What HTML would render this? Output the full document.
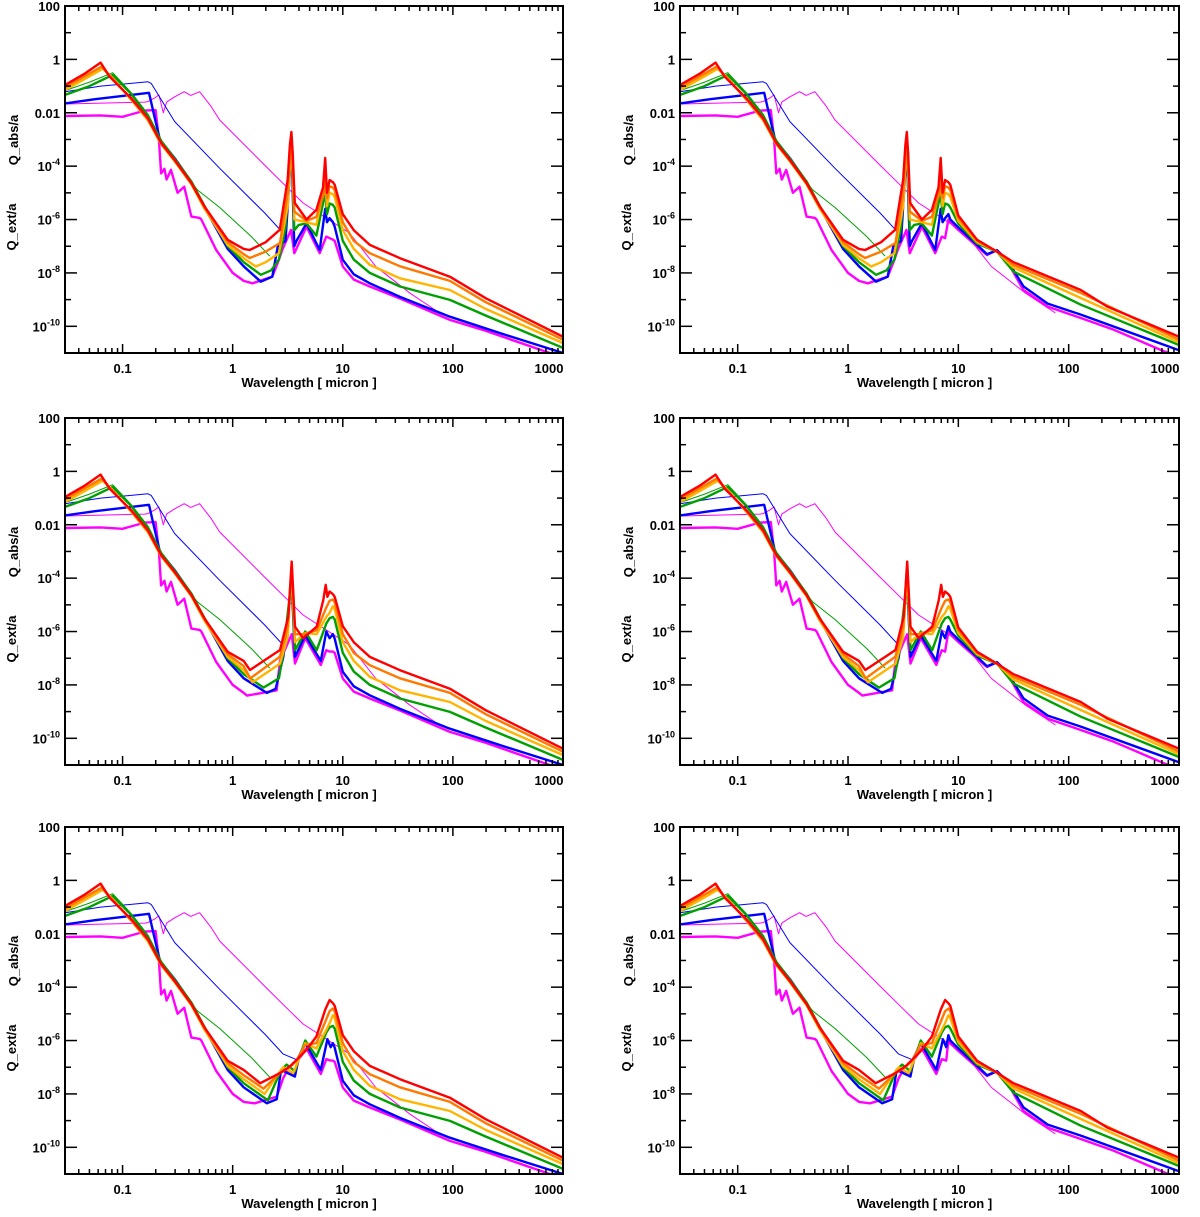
<!DOCTYPE html>
<html><head><meta charset="utf-8"><style>
html,body{margin:0;padding:0;background:#fff;}
svg{display:block;font-family:"Liberation Sans",Arial,sans-serif;font-weight:bold;}
</style></head><body>
<svg id="fig" width="1200" height="1217" viewBox="0 0 1200 1217" xmlns="http://www.w3.org/2000/svg"></svg>
<script>
const xTickValues = [0.1, 1, 10, 100, 1000];
const xTickLabels = ["0.1", "1", "10", "100", "1000"];
const yTickExps = [2, 0, -2, -4, -6, -8, -10];
const yTickLabels = ["100", "1", "0.01", "10|-4", "10|-6", "10|-8", "10|-10"];
const xMin = 0.03, xMax = 1000, yMinExp = -11, yMaxExp = 2;

const seriesNames = ["magenta", "blue", "green", "gold", "orange", "red"];
const seriesColors = {red:"#ff0000", orange:"#ff7800", gold:"#ffb400", green:"#00a000", blue:"#0000ff", magenta:"#ff00ff"};

const shortRed = [[-1.523,-0.96],[-1.35,-0.55],[-1.2,-0.12],[-1.118,-0.65],[-0.92,-1.46],[-0.77,-2.2],[-0.65,-3.13],[-0.527,-3.77],[-0.375,-4.63],[-0.255,-5.52],[-0.045,-6.76],[0.1,-7.1]];
const shortOrange = [[-1.523,-1.05],[-1.35,-0.65],[-1.19,-0.27],[-1.1,-0.68],[-0.92,-1.5],[-0.77,-2.25],[-0.65,-3.15],[-0.527,-3.8],[-0.375,-4.66],[-0.255,-5.55],[-0.045,-6.85],[0.1,-7.3]];
const shortGold = [[-1.523,-1.15],[-1.35,-0.75],[-1.18,-0.35],[-1.09,-0.7],[-0.92,-1.52],[-0.77,-2.28],[-0.65,-3.18],[-0.527,-3.82],[-0.375,-4.68],[-0.255,-5.6],[-0.045,-6.95],[0.1,-7.45]];
const shortGreen = [[-1.523,-1.33],[-1.3,-1.0],[-1.09,-0.58],[-0.92,-1.3],[-0.77,-2.1],[-0.65,-3.05],[-0.527,-3.72],[-0.375,-4.58],[-0.255,-5.5],[-0.045,-7.0],[0.1,-7.6]];
const shortBlue = [[-1.523,-1.65],[-1.25,-1.49],[-0.76,-1.25],[-0.71,-2.15],[-0.66,-3.02],[-0.527,-3.7],[-0.375,-4.6],[-0.255,-5.55],[-0.045,-7.1],[0.1,-7.75]];
const shortMagenta = [[-1.523,-2.12],[-1.2,-2.1],[-1.0,-2.15],[-0.8,-1.92],[-0.7,-1.9],[-0.67,-3.0],[-0.65,-4.27],[-0.62,-4.1],[-0.6,-4.5],[-0.56,-4.14],[-0.5,-5.0],[-0.44,-4.77],[-0.375,-5.89],[-0.3,-5.94],[-0.285,-6.0],[-0.15,-7.14],[0.0,-8.0],[0.1,-8.3]];
const thinGreen = [[-1.523,-1.17],[-1.3,-0.85],[-1.09,-0.5],[-0.92,-1.25],[-0.77,-2.05],[-0.62,-3.27],[-0.32,-4.89],[-0.118,-5.55],[0.17,-6.64],[0.336,-7.37]];
const thinBlue = [[-1.523,-1.21],[-1.2,-1.0],[-0.77,-0.84],[-0.74,-0.9],[-0.527,-2.33],[-0.118,-4.08],[0.29,-5.75],[0.457,-6.5]];
const thinMagenta = [[-1.523,-1.67],[-0.8,-1.6],[-0.77,-1.58],[-0.71,-1.45],[-0.67,-1.33],[-0.63,-2.0],[-0.6,-1.6],[-0.527,-1.4],[-0.44,-1.21],[-0.38,-1.35],[-0.3,-1.21],[-0.195,-1.77],[-0.118,-2.27],[0.29,-3.96],[0.488,-4.77],[0.64,-5.38],[1.06,-6.5],[1.3,-7.76],[1.61,-8.76],[1.88,-9.5]];

const mid1Red = [[0.155,-7.14],[0.3,-6.85],[0.427,-6.39],[0.5,-4.5],[0.52,-3.2],[0.533,-2.72],[0.545,-3.5],[0.564,-5.38],[0.67,-6.0],[0.76,-5.64],[0.82,-4.8],[0.84,-3.69],[0.857,-5.0],[0.88,-4.52]];
const mid1Orange = [[0.155,-7.44],[0.3,-7.2],[0.43,-6.88],[0.5,-5.0],[0.533,-2.9],[0.56,-5.7],[0.67,-6.05],[0.76,-5.9],[0.83,-5.0],[0.84,-4.2],[0.857,-5.2],[0.88,-4.75]];
const mid1Gold = [[0.21,-7.76],[0.3,-7.6],[0.42,-7.26],[0.5,-5.5],[0.533,-3.0],[0.56,-6.0],[0.67,-6.1],[0.76,-6.2],[0.84,-4.6],[0.857,-5.5],[0.88,-5.0]];
const mid1Green = [[0.255,-8.07],[0.35,-7.9],[0.42,-7.5],[0.48,-6.3],[0.533,-3.1],[0.56,-6.4],[0.6,-6.2],[0.67,-6.15],[0.76,-6.6],[0.84,-5.0],[0.857,-5.8],[0.88,-5.4]];
const mid1Blue = [[0.255,-8.33],[0.36,-8.14],[0.41,-7.0],[0.48,-6.8],[0.533,-3.3],[0.56,-7.0],[0.58,-6.8],[0.67,-6.14],[0.79,-7.14],[0.84,-5.6],[0.857,-6.1],[0.88,-5.95]];
const mid1Magenta = [[0.18,-8.39],[0.36,-8.14],[0.42,-7.51],[0.45,-7.14],[0.53,-6.39],[0.56,-7.26],[0.67,-6.27],[0.79,-7.26],[0.85,-6.64],[0.88,-6.7]];
const mid2Red = [[0.157,-7.44],[0.43,-6.69],[0.505,-5.44],[0.536,-3.38],[0.566,-5.82],[0.64,-6.25],[0.763,-5.82],[0.823,-4.82],[0.845,-4.25],[0.86,-4.7],[0.88,-4.5]];
const mid2Orange = [[0.16,-7.75],[0.43,-6.94],[0.5,-5.8],[0.536,-3.5],[0.566,-6.1],[0.64,-6.1],[0.763,-5.95],[0.85,-5.1],[0.88,-4.85]];
const mid2Gold = [[0.18,-7.9],[0.43,-7.2],[0.5,-6.2],[0.536,-3.7],[0.566,-6.4],[0.66,-6.05],[0.763,-6.1],[0.85,-5.45],[0.88,-5.3]];
const mid2Green = [[0.28,-8.1],[0.42,-7.75],[0.46,-6.8],[0.536,-4.0],[0.566,-6.7],[0.66,-6.0],[0.763,-6.7],[0.85,-5.7],[0.88,-5.5]];
const mid2Blue = [[0.31,-8.3],[0.39,-8.15],[0.46,-6.95],[0.536,-4.2],[0.566,-6.95],[0.66,-6.15],[0.8,-7.1],[0.85,-6.0],[0.88,-6.25]];
const mid2Magenta = [[0.13,-8.4],[0.4,-8.2],[0.43,-7.1],[0.536,-6.1],[0.566,-7.2],[0.66,-6.25],[0.8,-7.25],[0.85,-6.7],[0.88,-6.75]];
const mid3Red = [[0.25,-7.6],[0.43,-7.22],[0.52,-6.97],[0.58,-6.73],[0.67,-6.35],[0.76,-5.85],[0.84,-4.85],[0.88,-4.48]];
const mid3Orange = [[0.28,-7.8],[0.43,-7.22],[0.52,-7.0],[0.58,-6.75],[0.66,-6.16],[0.76,-6.1],[0.85,-5.2],[0.88,-4.9]];
const mid3Gold = [[0.29,-8.0],[0.42,-7.22],[0.46,-7.0],[0.55,-7.22],[0.66,-6.1],[0.76,-6.3],[0.85,-5.6],[0.88,-5.35]];
const mid3Green = [[0.32,-8.24],[0.44,-7.1],[0.49,-6.9],[0.565,-7.15],[0.6,-6.7],[0.66,-6.0],[0.76,-6.6],[0.85,-5.7],[0.88,-5.5]];
const mid3Blue = [[0.31,-8.35],[0.4,-8.2],[0.44,-7.1],[0.565,-7.35],[0.6,-6.6],[0.66,-6.1],[0.8,-7.1],[0.86,-5.95],[0.89,-6.25]];
const mid3Magenta = [[0.2,-8.35],[0.4,-8.1],[0.46,-7.4],[0.5,-7.1],[0.565,-7.3],[0.6,-6.7],[0.67,-6.3],[0.8,-7.25],[0.85,-6.7],[0.89,-6.75]];

const tailLRed = [[0.91,-4.6],[0.927,-4.7],[1.0,-5.8],[1.1,-6.4],[1.245,-6.95],[1.52,-7.45],[1.973,-8.14],[2.3,-8.95],[3.0,-10.39]];
const tailLOrange = [[0.91,-4.8],[0.927,-4.9],[1.0,-6.1],[1.1,-6.8],[1.245,-7.26],[1.52,-7.75],[1.973,-8.3],[2.3,-9.1],[3.0,-10.5]];
const tailLGold = [[0.91,-5.05],[0.927,-5.15],[1.0,-6.4],[1.1,-7.1],[1.245,-7.7],[1.52,-8.2],[1.973,-8.64],[2.3,-9.35],[3.0,-10.63]];
const tailLGreen = [[0.91,-5.45],[0.927,-5.55],[1.0,-6.8],[1.1,-7.5],[1.245,-8.0],[1.52,-8.51],[1.973,-9.01],[2.3,-9.6],[3.0,-10.81]];
const tailLBlue = [[0.91,-6.1],[0.927,-6.27],[1.0,-7.51],[1.1,-8.05],[1.245,-8.39],[1.52,-8.9],[1.973,-9.64],[2.43,-10.26],[3.0,-11.0]];
const tailLMagenta = [[0.91,-6.75],[0.927,-6.8],[1.0,-7.76],[1.1,-8.25],[1.245,-8.51],[1.52,-8.96],[1.973,-9.76],[2.27,-10.13],[2.88,-11.0]];
const tailRRed = [[0.91,-4.6],[0.927,-4.7],[1.0,-5.85],[1.17,-6.76],[1.35,-7.2],[1.5,-7.6],[2.11,-8.64],[2.35,-9.26],[3.0,-10.39]];
const tailROrange = [[0.91,-4.8],[0.927,-4.9],[1.0,-5.95],[1.17,-6.8],[1.35,-7.2],[1.5,-7.7],[2.11,-8.75],[3.0,-10.5]];
const tailRGold = [[0.91,-5.05],[0.927,-5.15],[1.0,-6.05],[1.17,-6.85],[1.35,-7.2],[1.5,-7.8],[2.11,-8.94],[3.0,-10.6]];
const tailRGreen = [[0.91,-5.45],[0.927,-5.55],[1.0,-6.15],[1.17,-6.9],[1.35,-7.2],[1.5,-7.95],[2.11,-9.19],[3.0,-10.7]];
const tailRBlue = [[0.91,-5.8],[0.927,-6.0],[1.0,-6.3],[1.17,-6.95],[1.26,-7.3],[1.35,-7.15],[1.44,-7.5],[1.59,-8.5],[1.81,-9.15],[2.11,-9.56],[3.0,-10.9]];
const tailRMagenta = [[0.91,-6.0],[0.927,-6.1],[1.0,-6.39],[1.17,-7.01],[1.26,-7.33],[1.35,-7.15],[1.44,-7.55],[1.59,-8.64],[1.81,-9.26],[2.11,-9.69],[2.41,-10.13],[2.9,-11.0]];

const panelLeft = [65, 680], panelW = [498, 499];
const panelTop = [6, 418, 827], panelH = 347;

const NS = "http://www.w3.org/2000/svg";
const svg = document.getElementById("fig");
function mk(tag, attrs, parent) {
  const e = document.createElementNS(NS, tag);
  for (const k in attrs) e.setAttribute(k, attrs[k]);
  (parent || svg).appendChild(e);
  return e;
}

const shortSet = {red:shortRed, orange:shortOrange, gold:shortGold, green:shortGreen, blue:shortBlue, magenta:shortMagenta};
const midSets = [
  {red:mid1Red, orange:mid1Orange, gold:mid1Gold, green:mid1Green, blue:mid1Blue, magenta:mid1Magenta},
  {red:mid2Red, orange:mid2Orange, gold:mid2Gold, green:mid2Green, blue:mid2Blue, magenta:mid2Magenta},
  {red:mid3Red, orange:mid3Orange, gold:mid3Gold, green:mid3Green, blue:mid3Blue, magenta:mid3Magenta}];
const tailSets = [
  {red:tailLRed, orange:tailLOrange, gold:tailLGold, green:tailLGreen, blue:tailLBlue, magenta:tailLMagenta},
  {red:tailRRed, orange:tailROrange, gold:tailRGold, green:tailRGreen, blue:tailRBlue, magenta:tailRMagenta}];

for (let r = 0; r < 3; r++) for (let c = 0; c < 2; c++) {
  const L = panelLeft[c], W = panelW[c], T = panelTop[r], H = panelH;
  const lx0 = Math.log10(xMin), lx1 = Math.log10(xMax);
  const X = lg => L + (lg - lx0) / (lx1 - lx0) * W;
  const Y = lg => T + (yMaxExp - lg) / (yMaxExp - yMinExp) * H;
  const g = mk("g", {});
  
  
  const clipId = "clip" + r + c;
  const cp = mk("clipPath", {id: clipId}, g);
  mk("rect", {x:L, y:T, width:W, height:H}, cp);
  const plot = mk("g", {"clip-path": "url(#" + clipId + ")"}, g);
  
  
  const line = (pts, color, w, name) => {
    const p = mk("polyline", {points: pts.map(q => X(q[0]).toFixed(1) + "," + Y(q[1]).toFixed(1)).join(" "),
      fill: "none", stroke: color, "stroke-width": w, "stroke-linejoin": "round"}, plot);
    
    
  };
  const tb = r === 2 ? thinBlue.concat([[0.6,-6.75]]) : thinBlue;
  line(thinMagenta, seriesColors.magenta, 1, 'thin-magenta-line');
  line(tb, seriesColors.blue, 1, 'thin-blue-line');
  line(thinGreen, seriesColors.green, 1, 'thin-green-line');
  seriesNames.forEach(s => {
    const pts = shortSet[s].concat(midSets[r][s], tailSets[c][s]);
    line(pts, seriesColors[s], 2.4, s + '-line');
  });
  const fr = mk("rect", {x:L, y:T, width:W, height:H, fill:"none", stroke:"#000", "stroke-width":2}, g);
  
  
  for (let d = -2; d <= 3; d++) for (let m = 1; m <= 9; m++) {
    const v = m * Math.pow(10, d);
    if (v < xMin * 0.999 || v > xMax * 1.001) continue;
    const x = X(Math.log10(v)), len = m === 1 ? 9 : 5;
    mk("line", {x1:x, x2:x, y1:T+H, y2:T+H-len, stroke:"#000", "stroke-width":1.5}, g);
    mk("line", {x1:x, x2:x, y1:T, y2:T+len, stroke:"#000", "stroke-width":1.5}, g);
  }
  xTickValues.forEach((v, i) => {
    const t = mk("text", {x: X(Math.log10(v)) - (v === 1000 ? 14 : 0), y: T+H+20, "font-size":13, "text-anchor":"middle"}, g);
    t.textContent = xTickLabels[i];
    
    
  });
  for (let e = yMinExp + 1; e <= yMaxExp; e++) {
    const y = Y(e), len = (e % 2 === 0) ? 12 : 6;
    mk("line", {x1:L, x2:L+len, y1:y, y2:y, stroke:"#000", "stroke-width":1.5}, g);
    mk("line", {x1:L+W, x2:L+W-len, y1:y, y2:y, stroke:"#000", "stroke-width":1.5}, g);
  }
  yTickExps.forEach((e, i) => {
    const t = mk("text", {x: L-5, y: Y(e)+5, "font-size":13, "text-anchor":"end"}, g);
    const parts = yTickLabels[i].split("|");
    if (parts.length === 1) t.textContent = parts[0];
    else {
      const a = mk("tspan", {}, t); a.textContent = parts[0];
      const b = mk("tspan", {dy:-6, "font-size":9}, t); b.textContent = parts[1];
    }
    
    
  });
  const xt = mk("text", {x: L + W*0.49, y: T+H+34, "font-size":13, "text-anchor":"middle"}, g);
  xt.textContent = "Wavelength [ micron ]";
  
  
  const ya = mk("text", {x:0, y:0, "font-size":13, "text-anchor":"middle", transform:"translate(" + (L-47) + "," + (T+134) + ") rotate(-90)"}, g);
  ya.textContent = "Q_abs/a";
  
  
  const ye = mk("text", {x:0, y:0, "font-size":13, "text-anchor":"middle", transform:"translate(" + (L-49) + "," + (T+221) + ") rotate(-90)"}, g);
  ye.textContent = "Q_ext/a";
  
  
}
</script>
</body></html>
